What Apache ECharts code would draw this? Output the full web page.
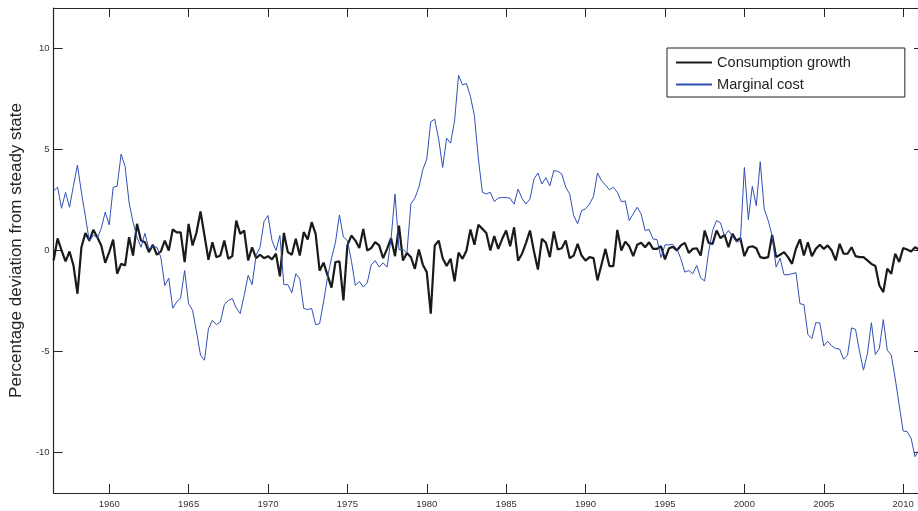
<!DOCTYPE html>
<html>
<head>
<meta charset="utf-8">
<script src="https://cdn.jsdelivr.net/npm/echarts@6/dist/echarts.min.js"></script>
<style>
html,body{margin:0;padding:0;background:#fff;overflow:hidden;width:918px;height:511px;}
#chart{width:923px;height:511px;}
</style>
</head>
<body>
<div id="chart"></div>
<script>
// Quarterly observations starting 1956 Q3
const quarterStart = 1956.5;
const quarterStep = 0.25;

const consumptionGrowth = [
  -0.49, 0.6, 0.0, -0.54, -0.05, -0.74, -2.14, 0.16, 0.86, 0.49, 1.02, 0.66, 0.25, -0.61, -0.08, 0.54,
  -1.15, -0.66, -0.74, 0.66, -0.25, 1.32, 0.49, 0.41, -0.08, 0.28, -0.21, -0.05, 0.49, 0.0, 1.04, 0.9,
  0.9, -0.58, 1.32, 0.25, 0.9, 1.93, 0.74, -0.46, 0.41, -0.33, -0.25, 0.49, -0.41, -0.28, 1.48, 0.82,
  0.99, -0.49, 0.16, -0.38, -0.21, -0.38, -0.28, -0.44, -0.16, -1.28, 0.87, -0.08, -0.21, 0.58, -0.25,
  0.91, 0.54, 1.4, 0.82, -1.0, -0.6, -1.23, -1.84, -0.57, -0.54, -2.47, 0.25, 0.74, 0.49, 0.12, 1.07,
  0.0, 0.12, 0.41, 0.25, -0.38, 0.08, 0.61, -0.28, 1.23, -0.5, -0.12, -0.33, -0.91, 0.05, -0.7,
  -1.07, -3.13, 0.25, 0.49, -0.38, -0.77, -0.41, -1.53, -0.11, -0.41, 0.0, 1.04, 0.28, 1.27, 1.07, 0.87,
  0.0, 0.71, 0.08, 0.58, 0.99, 0.21, 1.15, -0.5, -0.16, 0.38, 0.99, -0.05, -0.94, 0.58, 0.38, -0.33,
  0.94, 0.05, 0.11, 0.49, -0.38, -0.25, 0.33, -0.25, -0.5, -0.33, -0.38, -1.48, -0.71, 0.08, -0.77, -0.77,
  1.02, 0.0, 0.44, 0.21, -0.28, 0.28, 0.38, 0.16, 0.41, 0.08, 0.08, 0.21, -0.44, 0.11, 0.18,
  0.0, 0.25, 0.38, -0.12, 0.08, 0.11, -0.25, 0.99, 0.38, 0.33, 0.99, 0.61, 0.77, 0.16, 0.82, 0.49,
  0.61, -0.28, 0.16, 0.21, 0.11, -0.33, -0.38, -0.33, 0.77, -0.33, -0.21, -0.08, -0.33, -0.66, 0.1,
  0.55, -0.25, 0.41, -0.28, 0.08, 0.28, 0.08, 0.25, 0.0, -0.49, 0.33, -0.16, -0.16, 0.16, -0.28, -0.33,
  -0.33, -0.49, -0.66, -0.77, -1.73, -2.06, -0.9, -1.15, -0.16, -0.57, 0.12, 0.05, -0.05, 0.16, 0.05
];

const marginalCost = [
  2.96, 3.13, 2.09, 2.88, 2.14, 3.21, 4.23, 2.88, 1.69, 0.44, 0.77, 0.61, 1.1, 1.9, 1.27, 3.13,
  3.18, 4.77, 4.16, 2.39, 1.4, 0.66, 0.16, 0.85, 0.08, 0.21, 0.16, -0.33, -1.73, -1.37, -2.85, -2.55,
  -2.35, -0.99, -2.63, -2.96, -4.03, -5.18, -5.43, -3.87, -3.45, -3.67, -3.54, -2.68, -2.47, -2.38, -2.84, -3.12,
  -2.22, -1.23, -1.69, -0.24, 0.16, 1.43, 1.73, 0.5, 0.0, 0.74, -1.69, -1.69, -2.09, -1.15, -1.4,
  -2.87, -2.92, -2.87, -3.67, -3.62, -2.55, -1.31, -0.38, 0.41, 1.76, 0.66, 0.49, -0.5, -1.73, -1.53, -1.81,
  -1.6, -0.71, -0.5, -0.82, -0.61, -0.82, 0.58, 2.8, 0.05, 0.05, -0.12, 2.31, 2.59, 3.13, 4.0,
  4.53, 6.37, 6.5, 5.51, 4.11, 5.56, 5.31, 6.42, 8.67, 8.2, 8.26, 7.62, 6.67, 4.53, 2.88, 2.8,
  2.88, 2.42, 2.6, 2.62, 2.62, 2.58, 2.29, 3.04, 2.58, 2.3, 2.55, 3.54, 3.83, 3.29, 3.6, 3.2,
  3.95, 3.92, 3.79, 3.13, 2.8, 1.73, 1.32, 1.97, 2.06, 2.3, 2.68, 3.84, 3.46, 3.24, 3.01, 3.13,
  2.88, 2.42, 2.45, 1.48, 1.81, 2.14, 1.81, 0.99, 1.04, 0.57, 0.54, -0.35, 0.28, 0.28, 0.3,
  0.08, -0.41, -1.07, -0.99, -1.15, -0.74, -1.36, -1.51, -0.08, 0.99, 1.48, 1.37, 0.71, 0.99, 0.71, 0.41,
  0.5, 4.11, 1.53, 3.18, 2.22, 4.39, 2.06, 1.48, 0.74, -0.82, -0.38, -1.2, -1.2, -1.15, -1.1,
  -2.63, -2.68, -4.16, -4.36, -3.57, -3.58, -4.72, -4.49, -4.72, -4.85, -4.88, -5.38, -5.18, -3.83, -3.9, -4.98,
  -5.92, -5.1, -3.57, -5.15, -4.85, -3.42, -4.93, -5.18, -6.33, -7.65, -8.93, -8.96, -9.29, -10.2, -9.87
];

const xTickValues = [1960, 1965, 1970, 1975, 1980, 1985, 1990, 1995, 2000, 2005, 2010];
const yTickValues = [-10, -5, 0, 5, 10];
const seriesNames = ['Consumption growth', 'Marginal cost'];
const yAxisTitle = 'Percentage deviation from steady state';

const toPoints = arr => arr.map((v, i) => [quarterStart + i * quarterStep, v]);

const axisColor = '#262626';
const labelFont = { fontFamily: 'Liberation Sans, Arial, sans-serif', fontSize: 9.5, color: '#333' };

function xAx(pos, showLabel) {
  return {
    type: 'value', position: pos, min: 1956.5, max: 2011.25,
    axisLine: { show: true, onZero: false, lineStyle: { color: axisColor, width: 1.2 } },
    axisTick: { show: true, inside: true, length: 9, customValues: xTickValues, lineStyle: { color: axisColor, width: 1 } },
    axisLabel: Object.assign({ show: showLabel, customValues: xTickValues, margin: 6, formatter: v => String(v) }, labelFont),
    splitLine: { show: false }
  };
}
function yAx(pos, showLabel) {
  const a = {
    type: 'value', position: pos, min: -12, max: 12,
    axisLine: { show: true, onZero: false, lineStyle: { color: axisColor, width: 1.2 } },
    axisTick: { show: true, inside: true, length: 9, customValues: yTickValues, lineStyle: { color: axisColor, width: 1 } },
    axisLabel: Object.assign({ show: showLabel, customValues: yTickValues, margin: 4, formatter: v => String(v) }, labelFont),
    splitLine: { show: false }
  };
  if (showLabel) {
    a.name = yAxisTitle;
    a.nameLocation = 'middle';
    a.nameGap = 24;
    a.nameTextStyle = { fontFamily: 'Liberation Sans, Arial, sans-serif', fontSize: 17, color: '#222' };
  }
  return a;
}

const chart = echarts.init(document.getElementById('chart'), null, { renderer: 'canvas' });
chart.setOption({
  animation: false,
  backgroundColor: '#fff',
  grid: { left: 52, top: 8, right: 0, bottom: 18, containLabel: false },
  legend: {
    orient: 'vertical', left: 667, top: 48,
    data: seriesNames,
    itemWidth: 36, itemHeight: 14, itemGap: 7,
    padding: [7, 54, 5, 8],
    borderColor: '#222', borderWidth: 1, backgroundColor: '#fff',
    itemStyle: { opacity: 0 },
    textStyle: { fontFamily: 'Liberation Sans, Arial, sans-serif', fontSize: 14.6, color: '#222' }
  },
  xAxis: [xAx('bottom', true), xAx('top', false)],
  yAxis: [yAx('left', true), yAx('right', false)],
  series: [
    {
      name: seriesNames[0], type: 'line', data: toPoints(consumptionGrowth),
      symbol: 'none', lineStyle: { color: '#1a1a1a', width: 2.2 }, itemStyle: { color: '#1a1a1a' }
    },
    {
      name: seriesNames[1], type: 'line', data: toPoints(marginalCost),
      symbol: 'none', lineStyle: { color: '#3050b4', width: 1 }, itemStyle: { color: '#3050b4' }
    }
  ]
});
</script>
</body>
</html>
